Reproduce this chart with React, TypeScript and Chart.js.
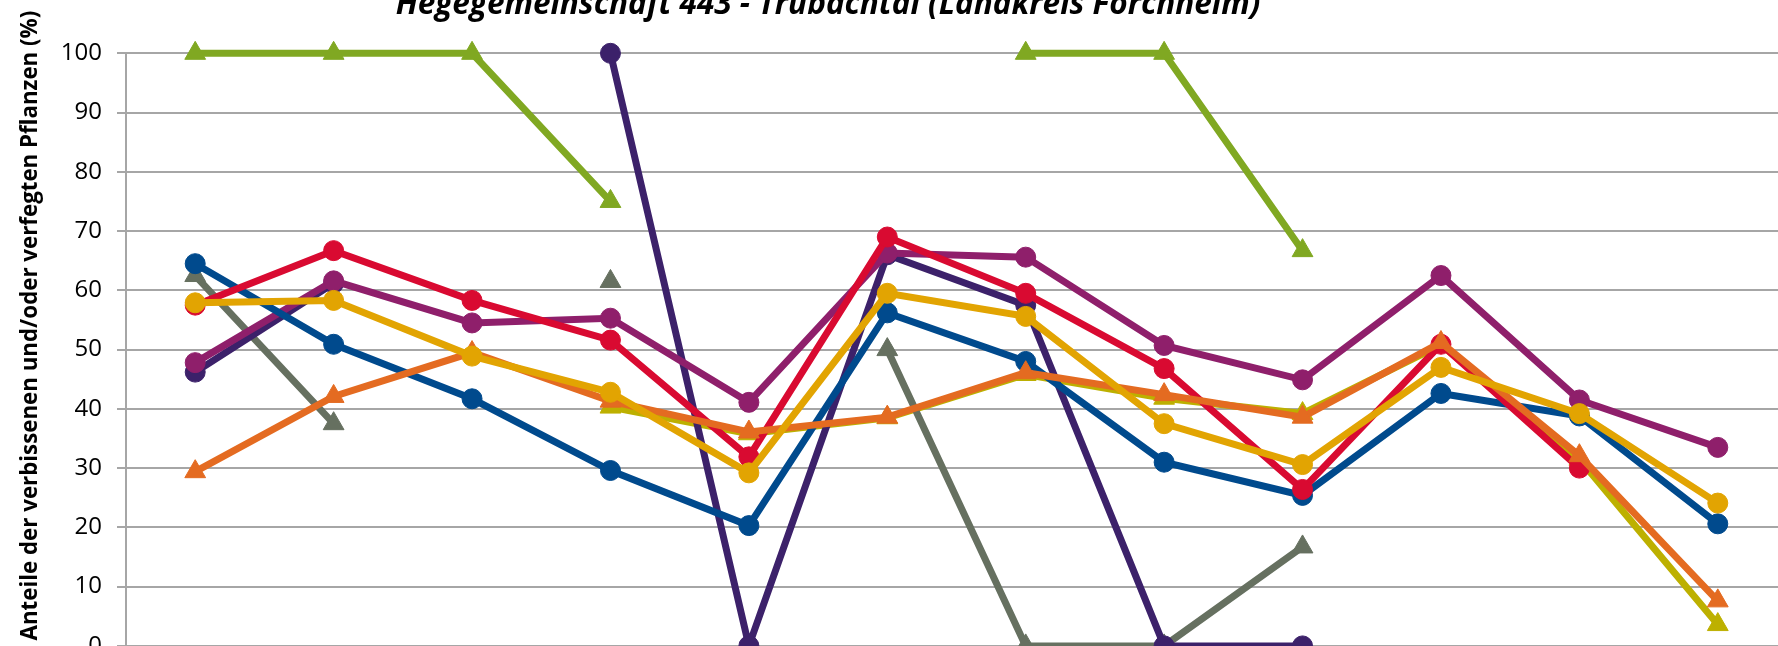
import React, { useEffect, useRef } from "react";
import { Chart, registerables } from "chart.js";

Chart.register(...registerables);

const chartTitle = "Hegegemeinschaft 443 - Trubachtal (Landkreis Forchheim)";
const yAxisTitle = "Anteile der verbissenen und/oder verfegten Pflanzen (%)";

const categories = ["1991", "1994", "1997", "2000", "2003", "2006", "2009", "2012", "2015", "2018", "2021", "2024"];
const yTicks = [0, 10, 20, 30, 40, 50, 60, 70, 80, 90, 100];

const seriesNames = [
  "Kiefer",
  "Buche",
  "Fichte",
  "Alle Baumarten",
  "Eiche",
  "Tanne",
  "Edellaubholz",
  "Lärche",
  "Sonstiges Laubholz",
];

const goldValues = [57.9, 58.3, 48.9, 42.8, 29.2, 59.5, 55.6, 37.5, 30.6, 47.0, 39.2, 24.1];
const orangeValues = [29.4, 42.1, 49.5, 41.3, 36.1, 38.6, 46.1, 42.4, 38.6, 51.2, 32.1, 7.6];
const redValues = [57.5, 66.7, 58.3, 51.6, 31.9, 69.0, 59.5, 46.8, 26.4, 50.9, 30.0, null];
const blueValues = [64.5, 50.9, 41.7, 29.6, 20.3, 56.2, 48.0, 31.0, 25.4, 42.6, 38.8, 20.6];
const magentaValues = [47.8, 61.6, 54.5, 55.3, 41.1, 66.3, 65.6, 50.7, 44.9, 62.5, 41.5, 33.5];
const purpleValues = [46.2, 61.2, null, 100, 0, 66.0, 57.5, 0, 0, null, null, null];
const greenValues = [100, 100, 100, 75, null, null, 100, 100, 66.7, null, null, null];
const grayValues = [62.5, 37.5, null, 61.5, null, 50, 0, 0, 16.7, null, null, null];
const oliveValues = [null, null, null, 40.3, 35.8, 38.5, 45.8, 41.8, 39.2, 50.8, 31.5, 3.6];

const seriesValues = [
  goldValues,
  orangeValues,
  redValues,
  blueValues,
  magentaValues,
  purpleValues,
  greenValues,
  grayValues,
  oliveValues,
];
const seriesColors = ["#E2A402", "#E46B21", "#D90A31", "#004A8D", "#8F1F6B", "#3C216A", "#80A822", "#667060", "#BDB000"];
const seriesMarkers = ["circle", "triangle", "circle", "circle", "circle", "circle", "triangle", "triangle", "triangle"];

const titlesPlugin = {
  id: "customTitles",
  afterDraw(chart: any) {
    const ctx = chart.ctx;
    const area = chart.chartArea;
    ctx.save();
    ctx.fillStyle = "#000000";
    ctx.font = "italic bold 31.5px 'Open Sans'";
    ctx.textAlign = "center";
    ctx.textBaseline = "alphabetic";
    ctx.fillText(chartTitle, 828, 13.5);

    ctx.translate(31, (area.top + area.bottom) / 2 - 24);
    ctx.rotate(-Math.PI / 2);
    ctx.font = "bold 22.3px 'Open Sans'";
    ctx.textAlign = "center";
    ctx.textBaseline = "middle";
    ctx.fillText(yAxisTitle, 0, 0);
    ctx.restore();
  },
};

export default function App() {
  const canvasRef = useRef<HTMLCanvasElement | null>(null);

  useEffect(() => {
    if (!canvasRef.current) return;
    const datasets = seriesValues.map((values, i) => ({
      label: seriesNames[i],
      data: values,
      borderColor: seriesColors[i],
      backgroundColor: seriesColors[i],
      pointBackgroundColor: seriesColors[i],
      pointBorderColor: seriesColors[i],
      pointStyle: seriesMarkers[i],
      pointRadius: seriesMarkers[i] === "triangle" ? 12 : 10,
      pointBorderWidth: 1,
      borderWidth: 7,
      tension: 0,
      spanGaps: false,
      clip: false as any,
    }));

    const chart = new Chart(canvasRef.current, {
      type: "line",
      data: { labels: categories, datasets },
      plugins: [titlesPlugin],
      options: {
        responsive: false,
        animation: false,
        layout: { padding: { left: 0, right: 5, top: 53.3, bottom: 0 } },
        plugins: {
          legend: { display: false },
          title: { display: false },
          tooltip: { enabled: false },
        },
        scales: {
          x: {
            type: "category",
            offset: true,
            grid: { display: false },
            border: { display: true, color: "#A6A6A6", width: 2 },
            ticks: { font: { family: "Open Sans", size: 20 }, color: "#000" },
            afterFit(scale: any) {
              scale.height = 760 - 645.9;
            },
          },
          y: {
            min: 0,
            max: 100,
            afterBuildTicks(scale: any) {
              scale.ticks = yTicks.map((v) => ({ value: v }));
            },
            ticks: {
              font: { family: "Open Sans", size: 24 },
              color: "#000000",
              padding: 15,
            },
            grid: { color: "#A6A6A6", lineWidth: 2, tickLength: 9, drawTicks: true },
            border: { display: true, color: "#A6A6A6", width: 2 },
            afterFit(scale: any) {
              scale.width = 126;
            },
          },
        },
      },
    });
    return () => chart.destroy();
  }, []);

  return (
    <div style={{ position: "fixed", left: 0, top: 0, width: 1800, height: 760, background: "#ffffff" }}>
      <canvas ref={canvasRef} width={1800} height={760} style={{ width: 1800, height: 760, display: "block" }} />
    </div>
  );
}
